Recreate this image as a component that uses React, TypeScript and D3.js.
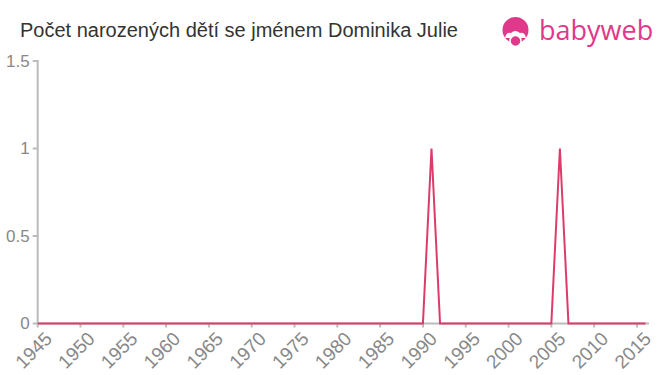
import React from "react";
import * as d3 from "d3";

const years: number[] = [];
for (let y = 1945; y <= 2016; y++) years.push(y);
const nonZeroYears = [1991, 2006];
const nonZeroValues = [1, 1];
const counts: number[] = years.map((y) => {
  const i = nonZeroYears.indexOf(y);
  return i >= 0 ? nonZeroValues[i] : 0;
});
const yTicks = [0, 0.5, 1, 1.5];
const xTicks = [1945, 1950, 1955, 1960, 1965, 1970, 1975, 1980, 1985, 1990, 1995, 2000, 2005, 2010, 2015];
const title = "Počet narozených dětí se jménem Dominika Julie";

const W = 660;
const H = 375;
const left = 37.7;
const right = 645.5;
const axisEnd = 649;
const top = 61;
const bottom = 323.5;

export default function App() {
  const x = d3.scaleLinear().domain([1945, 2016]).range([left, right]);
  const y = d3.scaleLinear().domain([0, 1.5]).range([bottom, top]);
  const line = d3
    .line<number>()
    .x((_, i) => x(years[i]))
    .y((d) => y(d));
  const font = "'Liberation Sans', Arial, Helvetica, sans-serif";
  return (
    <svg
      width={W}
      height={H}
      style={{ position: "absolute", left: 0, top: 0, background: "#fff" }}
    >
      <text x={20} y={37.3} fontSize={20} fill="#333" fontFamily={font}>
        {title}
      </text>
      {/* logo */}
      <g fill="#e0388a">
        <circle cx={515.5} cy={30} r={13} />
        <path d="M505 38 q1 -6 6 -5 q4 -4 9 0 q5 -1 6 5 z" fill="#fff" />
        <circle cx={515.5} cy={41} r={5.5} fill="#e0388a" stroke="#fff" strokeWidth={1.5} />
        <text x={539} y={40} fontSize={27} fontFamily="'Open Sans', 'Noto Sans', sans-serif" fontWeight={500} fill="#e0388a">
          babyweb
        </text>
      </g>
      {/* axes */}
      <g stroke="#bbb" strokeWidth={2} fill="none">
        <line x1={left} x2={left} y1={top - 1} y2={bottom} />
        <line x1={left - 1} x2={axisEnd} y1={bottom} y2={bottom} />
        {yTicks.map((t) => (
          <line key={"yt" + t} x1={left - 5} x2={left} y1={y(t)} y2={y(t)} />
        ))}
        {xTicks.map((t) => (
          <line key={"xt" + t} x1={x(t)} x2={x(t)} y1={bottom} y2={bottom + 4} />
        ))}
      </g>
      {yTicks.map((t) => (
        <text
          key={"yl" + t}
          x={left - 8}
          y={y(t)}
          dy="0.35em"
          textAnchor="end"
          fontSize={17}
          fill="#888"
          fontFamily={font}
        >
          {t}
        </text>
      ))}
      {xTicks.map((t) => (
        <text
          key={"xl" + t}
          transform={`translate(${x(t) + 6},${bottom + 7}) rotate(-45)`}
          textAnchor="end"
          dy="0.7em"
          fontSize={19}
          fill="#888"
          fontFamily={font}
        >
          {t}
        </text>
      ))}
      <path d={line(counts) || ""} fill="none" stroke="#dc3c6b" strokeWidth={2} />
    </svg>
  );
}
